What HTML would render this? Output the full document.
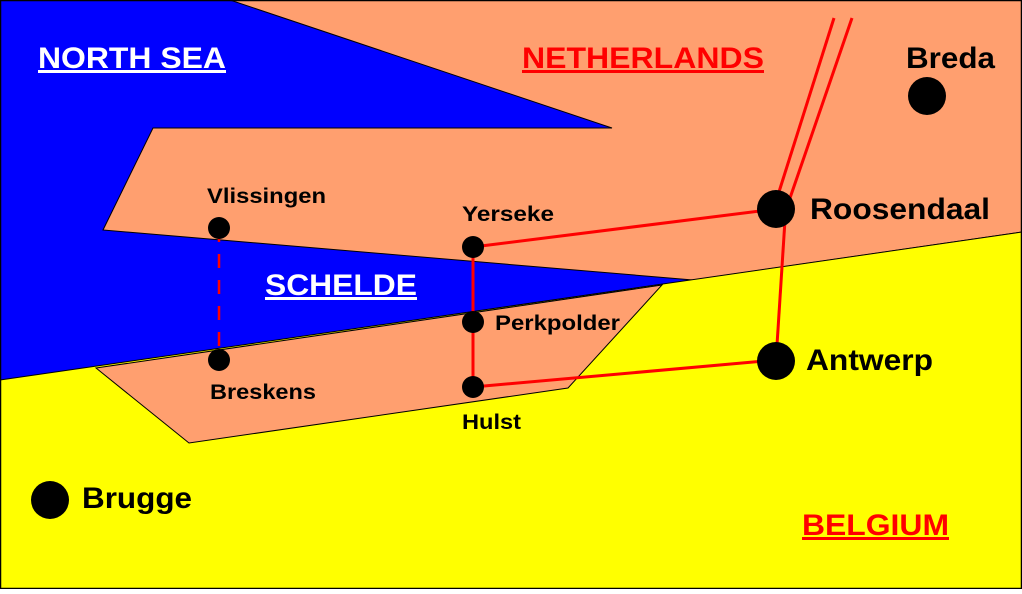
<!DOCTYPE html>
<html><head><style>body{margin:0;background:#fff}svg text{font-family:"Liberation Sans",sans-serif;font-weight:bold}</style></head><body>
<svg width="1022" height="589" viewBox="0 0 1022 589" xmlns="http://www.w3.org/2000/svg">
<rect x="0" y="0" width="1022" height="589" fill="#0000ff"/>
<polygon points="230,0 1022,0 1022,232 693,280 103,230 153,128 612,128" fill="#ff9f6f" stroke="#000" stroke-width="1"/>
<polygon points="0,380 1022,232 1022,589 0,589" fill="#ffff00" stroke="#000" stroke-width="1"/>
<polygon points="96,368 662,285 568,388 189,443" fill="#ff9f6f" stroke="#000" stroke-width="1"/>
<rect x="0.5" y="0.5" width="1021" height="588" fill="none" stroke="#000" stroke-width="1.5"/>
<g stroke="#ff0000" stroke-width="3" fill="none">
<line x1="834" y1="18" x2="778" y2="195"/>
<line x1="852" y1="18" x2="790" y2="198"/>
<line x1="785" y1="220" x2="777" y2="345"/>
<line x1="473" y1="247" x2="776" y2="209"/>
<line x1="473" y1="247" x2="473" y2="387"/>
<line x1="473" y1="387" x2="776" y2="360"/>
<line x1="219" y1="228" x2="219" y2="360" stroke-dasharray="14,12" stroke-width="2.5"/>
</g>
<g fill="#000">
<circle cx="927" cy="96" r="19"/>
<circle cx="776" cy="209" r="19"/>
<circle cx="776" cy="361" r="19"/>
<circle cx="50" cy="500" r="19"/>
<circle cx="219" cy="228" r="11"/>
<circle cx="219" cy="360" r="11"/>
<circle cx="473" cy="247" r="11"/>
<circle cx="473" cy="322" r="11"/>
<circle cx="473" cy="387" r="11"/>
</g>
<g font-size="30">
<text x="38" y="68" fill="#fff" text-decoration="underline" textLength="188" lengthAdjust="spacingAndGlyphs">NORTH SEA</text>
<text x="522" y="68" fill="#ff0000" text-decoration="underline" textLength="242" lengthAdjust="spacingAndGlyphs">NETHERLANDS</text>
<text x="906" y="68" fill="#000" textLength="89" lengthAdjust="spacingAndGlyphs">Breda</text>
<text x="810" y="219" fill="#000" textLength="180" lengthAdjust="spacingAndGlyphs">Roosendaal</text>
<text x="806" y="370" fill="#000" textLength="127" lengthAdjust="spacingAndGlyphs">Antwerp</text>
<text x="265" y="295" fill="#fff" text-decoration="underline" textLength="152" lengthAdjust="spacingAndGlyphs">SCHELDE</text>
<text x="802" y="535" fill="#ff0000" text-decoration="underline" textLength="147" lengthAdjust="spacingAndGlyphs">BELGIUM</text>
<text x="82" y="508" fill="#000" textLength="110" lengthAdjust="spacingAndGlyphs">Brugge</text>
</g>
<g font-size="21" fill="#000">
<text x="207" y="203" textLength="119" lengthAdjust="spacingAndGlyphs">Vlissingen</text>
<text x="210" y="399" textLength="106" lengthAdjust="spacingAndGlyphs">Breskens</text>
<text x="462" y="221" textLength="92" lengthAdjust="spacingAndGlyphs">Yerseke</text>
<text x="495" y="330" textLength="125" lengthAdjust="spacingAndGlyphs">Perkpolder</text>
<text x="462" y="429" textLength="59" lengthAdjust="spacingAndGlyphs">Hulst</text>
</g>
</svg>
</body></html>
